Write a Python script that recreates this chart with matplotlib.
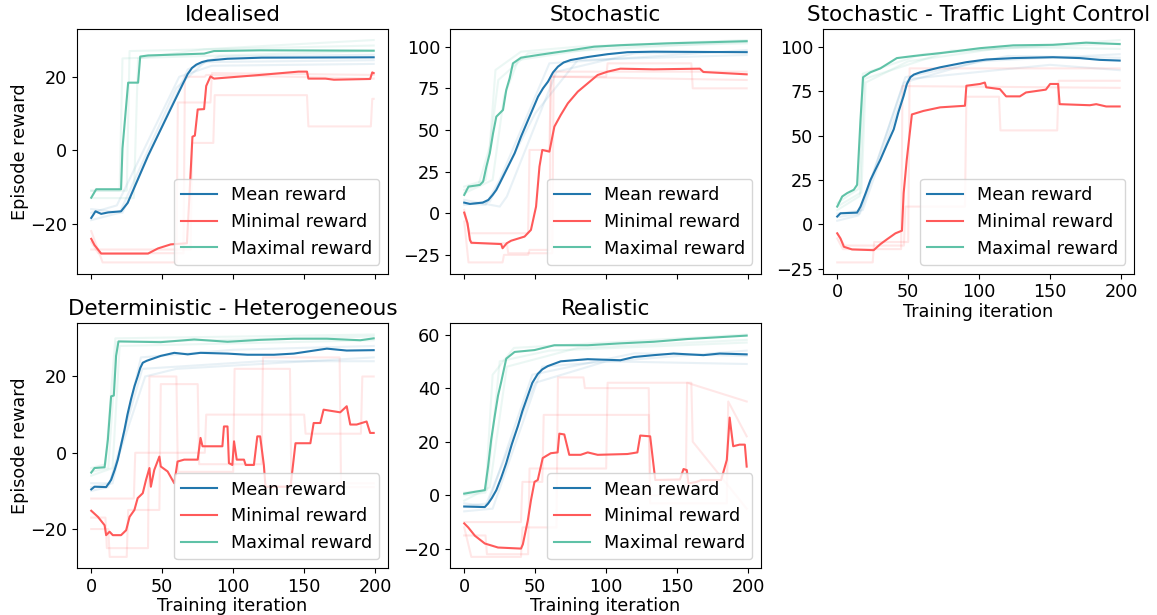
import matplotlib
matplotlib.use("Agg")
import matplotlib.pyplot as plt

# ---------------------------------------------------------------- data
# Each curve is a list of (training iteration, episode reward) breakpoints.

titles = ["Idealised", "Stochastic", "Stochastic - Traffic Light Control",
          "Deterministic - Heterogeneous", "Realistic"]
x_ticks = [0, 50, 100, 150, 200]
y_ticks = [[-20, 0, 20], [-25, 0, 25, 50, 75, 100], [-25, 0, 25, 50, 75, 100],
           [-20, 0, 20], [-20, 0, 20, 40, 60]]

# Idealised
idealised_mean = [(0, -18.4), (3, -16.6), (7, -17.3), (12, -16.9), (21, -16.6), (25.7, -14.3),
                  (40, -1.5), (55, 10.5), (68, 20.8), (71, 22.4), (74, 23.3), (78, 24.0),
                  (82, 24.4), (96, 24.9), (120, 25.2), (199, 25.3)]
idealised_min = [(0, -24.1), (2.3, -25.8), (7, -28.1), (40, -28.1), (47, -26.7), (56, -25.6),
                 (67.4, -25.3), (69, -13.8), (71.3, 3.7), (73, 4), (75, 11.1), (79.5, 11.2),
                 (81, 17.5), (84, 20.1), (86.5, 19.5), (119, 20.5), (146, 21.4), (152, 21.4),
                 (153, 19.5), (165, 19.5), (171, 19.2), (196.5, 19.4), (198, 21.2), (199, 21.0)]
idealised_max = [(0, -12.9), (3.5, -10.6), (21, -10.6), (22, 0.5), (26, 18.4), (33, 18.4),
                 (34.5, 25.5), (40, 25.8), (79.5, 26.3), (86.5, 27.0), (119, 27.2), (199, 27.1)]
idealised_runs_mean = [[(0, -19), (20, -17), (60, 17), (80, 24), (199, 24.5)],
                       [(0, -16), (22, -17), (68, 22), (90, 25.5), (199, 26)],
                       [(0, -17), (18, -15), (62, 20), (85, 23), (199, 23.5)]]
idealised_runs_min = [[(0, -22), (8, -30.5), (60, -30.5), (61, 13), (84, 13), (85, 21), (199, 20.5)],
                      [(0, -27), (70, -27), (71, 2), (86, 2), (87, 15), (152, 15), (153, 6.5),
                       (197, 6.5), (198, 14), (199, 14)],
                      [(0, -25), (5, -28), (65, -28), (66, 20), (80, 20), (81, 20.5), (199, 19.5)]]
idealised_runs_max = [[(0, -11), (25, -11), (27, 27), (199, 28.5)],
                      [(0, -13), (30, -13), (33, 25), (80, 27.5), (199, 30)],
                      [(0, -11), (20, -11), (22, 25), (199, 27)]]

# Stochastic
stochastic_mean = [(0, 6.4), (4, 5.6), (13, 6.4), (17, 8), (20, 11), (22.6, 14), (25, 18),
                   (28.5, 24), (32, 30), (35.5, 36), (40, 46), (45, 56), (48.5, 63), (52, 70),
                   (55.5, 75), (59, 79), (62.5, 84.5), (66, 88), (70, 90.5), (75, 92),
                   (87, 93.8), (101, 95.5), (115, 96.7), (133.5, 97), (199, 96.7)]
stochastic_min = [(0, 0.4), (2.3, -6), (4, -16), (5, -17.7), (26, -18.5), (27, -21), (30, -18),
                  (33, -16.5), (42.5, -14), (47, -10), (50.6, 4), (53, 28), (55, 38), (60, 37),
                  (63.5, 52), (68, 59), (73, 66), (80, 73), (87, 78), (94, 83), (101, 85),
                  (110, 86.8), (133.5, 86.4), (166, 86.8), (168.5, 84.8), (199, 83.4)]
stochastic_max = [(0, 11), (3, 16), (11, 17), (13.3, 19), (15.6, 28), (18, 36), (20.3, 48),
                  (22.6, 58), (27.3, 62), (29.6, 74), (32, 81), (34.3, 90), (40, 93.4), (52, 95),
                  (68, 97), (80, 98.5), (91.5, 100), (110, 100.9), (143, 102), (199, 103.3)]
stochastic_runs_mean = [[(0, 6), (15, 5), (25, 20), (60, 90), (199, 98)],
                        [(0, 8), (25, 4), (30, 10), (65, 85), (120, 96), (199, 97)],
                        [(0, 5), (18, 7), (50, 60), (80, 92), (199, 95)]]
stochastic_runs_min = [[(0, -5), (3, -29.5), (27, -29.5), (28, -25), (45, -25), (46, -22),
                        (60, -22), (61, 82), (199, 80)],
                       [(0, 0), (4, -12), (45, -12), (46, 38), (60, 38), (61, 82), (100, 82),
                        (101, 90), (160, 90), (161, 75), (199, 75)],
                       [(0, 2), (5, -18), (30, -18), (31, -24), (62, -24), (63, 85), (199, 85)]]
stochastic_runs_max = [[(0, 14), (10, 17), (18, 40), (22, 86), (40, 97), (80, 100), (199, 104)],
                       [(0, 12), (20, 20), (28, 70), (38, 92), (100, 100), (199, 102)],
                       [(0, 16), (15, 20), (24, 80), (45, 96), (199, 103)]]

# Stochastic - Traffic Light Control
traffic_mean = [(0, 4.4), (2.3, 6.2), (14, 6.6), (16.4, 10), (20, 17.5), (23.4, 25), (27, 31),
                (30.4, 36.5), (35, 45), (39.8, 53.6), (43, 63), (46.8, 72.5), (49, 79),
                (51.5, 83), (54, 84.5), (58.5, 85.8), (72.5, 88.6), (91, 91.5), (105, 93),
                (124, 93.8), (152, 94.3), (171, 93.8), (185, 92.8), (199, 92.4)]
traffic_min = [(0, -5.1), (2.3, -8), (4.7, -12.7), (10.5, -14.2), (25.7, -14.6), (30.4, -11.2),
               (35, -8.5), (41, -5.1), (45.6, -3.6), (46.8, 17.6), (49, 36.5), (52.6, 62),
               (60.8, 64), (72.5, 66), (90, 66.9), (91, 78.2), (100.6, 79.2), (104, 80),
               (105, 77.3), (114.6, 76.3), (119, 72.2), (128.7, 72.2), (133, 74.4), (147, 76),
               (150, 79.2), (155.6, 79.2), (156.7, 67.8), (178, 67.2), (182.5, 67.8),
               (189.5, 66.5), (199, 66.5)]
traffic_max = [(0, 10), (3.5, 15.7), (7, 17.6), (11.7, 19.5), (14, 22.3), (16.4, 59), (18.2, 83),
               (23.4, 85.8), (30.4, 88), (37.4, 91.5), (42, 93.8), (54, 95), (68, 96.2),
               (82, 97.5), (100.6, 99.4), (124, 101), (152, 101.3), (175.4, 102.5), (199, 101.7)]
traffic_runs_mean = [[(0, 2), (15, 5), (47, 80), (100, 92), (199, 96)],
                     [(0, 6), (18, 8), (50, 82), (150, 90), (199, 87)],
                     [(0, 4), (16, 6), (48, 83), (120, 95), (199, 94)]]
traffic_runs_min = [[(0, -21.5), (25, -21.5), (26, -10), (50, -10), (51, 88), (199, 88)],
                    [(0, -5), (5, -12), (47, -12), (48, 10), (90, 10), (91, 72), (114, 72),
                     (115, 53), (155, 53), (156, 81), (199, 81)],
                    [(0, -8), (4, -14), (45, -14), (46, 78), (199, 77)]]
traffic_runs_max = [[(0, 12), (15, 20), (18, 85), (60, 96), (199, 104)],
                    [(0, 10), (17, 18), (20, 80), (50, 92), (120, 100), (199, 99)],
                    [(0, 8), (16, 16), (19, 82), (80, 98), (199, 102)]]

# Deterministic - Heterogeneous
hetero_mean = [(0, -9.6), (2.3, -8.9), (10.5, -9), (14, -7.1), (16.5, -4.5), (18.7, -1.8),
               (21, 2), (23.4, 6), (25.5, 10), (28, 14), (30.5, 17.5), (32.7, 20), (34.5, 22.2),
               (36.3, 23.6), (39, 24.1), (42, 24.5), (49, 25.4), (58.5, 26.2), (68, 25.8),
               (77, 26.2), (96, 26), (110, 25.7), (128.7, 25.7), (142.7, 26), (166, 27.3),
               (180, 26.8), (199, 26.9)]
hetero_min = [(0, -15.2), (4.7, -16.8), (9.4, -19), (10.5, -21.6), (12.9, -20.7), (15.2, -21.6),
              (21, -21.6), (24.6, -20.3), (27, -16.8), (30.4, -15), (32.7, -11.9), (36.3, -10.6),
              (38.6, -7.1), (41, -4), (42, -8.9), (44.4, -4.5), (48, -1), (49, -3.6),
              (53.8, -4.9), (58.5, -8), (60.8, -2.3), (65.5, -1.8), (75, -1.8), (77, 3.9),
              (78.4, 1.7), (92.4, 1.7), (93.5, 6.9), (96, 6.9), (97, -2.7), (99.4, -3.2),
              (100.6, 3), (102.5, -1.8), (107.6, -1.8), (108.8, -3.2), (114.6, -3.2), (117, 4.3),
              (119, 4.3), (121.6, -3.2), (122.8, -8.9), (140.4, -8.9), (143.9, 2.5),
              (154.4, 2.5), (156.7, 7.8), (161.4, 7.8), (163.7, 11.3), (175.4, 10.6),
              (180, 12.2), (182.5, 7.4), (187, 7.4), (194, 8.2), (196.5, 5.2), (199, 5.2)]
hetero_max = [(0, -5.2), (2.3, -4), (9.4, -3.8), (11.7, 3.4), (14, 14.8), (15.9, 15), (17.5, 25.4),
              (19.2, 29.2), (49, 29), (72.5, 29.7), (96, 29.1), (119, 29.6), (142.7, 29.9),
              (166, 29.9), (189.5, 29.5), (199, 30)]
hetero_runs_mean = [[(0, -10), (12, -9), (38, 20), (60, 22), (199, 25)],
                    [(0, -9), (15, -8), (35, 25), (100, 27), (199, 28)],
                    [(0, -8), (13, -8), (36, 22), (120, 24), (199, 24)]]
hetero_runs_min = [[(0, -17), (10, -17), (11, -25), (40, -25), (41, 20), (60, 20), (61, -5),
                    (100, -5), (101, 22), (140, 22), (141, -8), (199, -8)],
                   [(0, -20), (12, -20), (13, -27.3), (25, -27.3), (26, -15), (48, -15), (49, 18),
                    (75, 18), (76, -3), (120, -3), (121, 25), (175, 25), (176, -9), (199, -9)],
                   [(0, -12), (30, -12), (31, 0), (80, 0), (81, 10), (150, 10), (151, 5),
                    (190, 5), (191, 20), (199, 20)]]
hetero_runs_max = [[(0, -4), (10, -3), (17, 30), (199, 31)],
                   [(0, -6), (15, -4), (20, 28), (199, 29.5)],
                   [(0, -5), (12, -4), (18, 29), (199, 30.5)]]

# Realistic
realistic_mean = [(0, -4.2), (14.5, -4.4), (16.8, -3.1), (19.5, -1), (22.6, 1.9), (26, 6.5),
                  (29.6, 12), (33.5, 19), (37.8, 25.8), (41, 31.5), (44.8, 37.2), (48, 42),
                  (51.8, 45.3), (55, 47), (58.8, 48.2), (68, 50), (87, 50.8), (110, 50.4),
                  (119.5, 51.6), (133.5, 52.3), (147.5, 52.9), (168.5, 52.3), (180, 52.9),
                  (199, 52.6)]
realistic_min = [(0, -10.5), (2.8, -12), (7.5, -15.1), (14.5, -18), (23.8, -19.5), (40, -19.9),
                 (41.3, -18.3), (44.8, -9.4), (47, -1.9), (49.5, 5), (51.8, 5.7), (55.3, 13.9),
                 (61, 15.7), (65.8, 16), (67, 23), (70.5, 22.7), (74, 15.1), (82, 15.1), (87, 16),
                 (94, 15.1), (115, 15.4), (122, 16), (124, 22.3), (131, 22), (134.6, 5.7),
                 (152, 5.9), (154.5, 9.8), (156.8, 9.4), (158, 4.4), (163.8, 5), (167, 5.7),
                 (181, 5.7), (185, 13.2), (187, 29), (189.5, 18.3), (194, 18.9), (197.7, 18.9),
                 (199, 10.7)]
realistic_max = [(0, 0.6), (7.5, 1.3), (14.5, 1.9), (16.8, 10.7), (19, 20.8), (21.5, 29.6),
                 (23.8, 37.2), (26, 42.2), (29.6, 51), (35.5, 53.5), (49.5, 54.2), (63.5, 56),
                 (87, 56), (110, 56.7), (133.5, 57.3), (156.8, 58.3), (199, 59.6)]
realistic_runs_mean = [[(0, -3), (15, -4), (50, 42), (100, 50), (199, 49)],
                       [(0, -6), (20, -5), (55, 48), (199, 54)],
                       [(0, -4), (17, -3), (48, 45), (120, 53), (199, 52)]]
realistic_runs_min = [[(0, -12), (5, -23), (40, -23), (41, -12), (65, -12), (66, 44), (84, 44),
                       (85, 40), (130, 40), (131, 0), (156, 0), (157, 42), (199, 35)],
                      [(0, -10), (40, -10), (41, 5), (55, 5), (56, 30), (130, 30), (131, -3),
                       (185, -3), (186, 35), (199, 22)],
                      [(0, -15), (15, -15), (16, -22), (45, -22), (46, 10), (100, 10), (101, 42),
                       (160, 42), (161, 20), (199, -5)]]
realistic_runs_max = [[(0, 0), (15, 1), (20, 45), (35, 55), (199, 60)],
                      [(0, -2), (18, 3), (30, 48), (80, 55), (199, 58)],
                      [(0, 1), (16, 2), (25, 50), (60, 54), (199, 57)]]

panels = [
    (idealised_mean, idealised_min, idealised_max,
     idealised_runs_mean, idealised_runs_min, idealised_runs_max),
    (stochastic_mean, stochastic_min, stochastic_max,
     stochastic_runs_mean, stochastic_runs_min, stochastic_runs_max),
    (traffic_mean, traffic_min, traffic_max,
     traffic_runs_mean, traffic_runs_min, traffic_runs_max),
    (hetero_mean, hetero_min, hetero_max,
     hetero_runs_mean, hetero_runs_min, hetero_runs_max),
    (realistic_mean, realistic_min, realistic_max,
     realistic_runs_mean, realistic_runs_min, realistic_runs_max),
]

# ---------------------------------------------------------------- style
MEAN_C = "#2277ad"
MIN_C = "#ff5a5a"
MAX_C = "#5fc2a7"
FS = 12.7

plt.rcParams["font.family"] = "DejaVu Sans"
plt.rcParams["font.size"] = FS


def xy(points):
    return [p[0] for p in points], [p[1] for p in points]


fig, axes = plt.subplots(2, 3, figsize=(11.57, 6.15), dpi=100)
fig.subplots_adjust(left=0.0666, right=0.980, top=0.953, bottom=0.0764,
                    wspace=0.2, hspace=0.204)
axes[1, 2].remove()
ax_list = [axes[0, 0], axes[0, 1], axes[0, 2], axes[1, 0], axes[1, 1]]

for i, (ax, title, data) in enumerate(zip(ax_list, titles, panels)):
    mean, mn, mx, runs_mean, runs_min, runs_max = data
    # individual runs, faint
    for run in runs_mean:
        ax.plot(*xy(run), color=MEAN_C, alpha=0.1, lw=1.5)
    for run in runs_max:
        ax.plot(*xy(run), color=MAX_C, alpha=0.12, lw=1.5)
    for run in runs_min:
        ax.plot(*xy(run), color=MIN_C, alpha=0.14, lw=1.5)
    # aggregated curves
    ax.plot(*xy(mean), color=MEAN_C, lw=1.5, label="Mean reward")
    ax.plot(*xy(mn), color=MIN_C, lw=1.5, label="Minimal reward")
    ax.plot(*xy(mx), color=MAX_C, lw=1.5, label="Maximal reward")

    ax.set_title(title, fontsize=FS * 1.22)
    ax.set_xticks(x_ticks)
    ax.set_yticks(y_ticks[i])
    ax.set_xlim(-10, 209)
    ax.tick_params(labelsize=FS)
    if i in (0, 1):
        ax.tick_params(labelbottom=False)
    else:
        ax.set_xlabel("Training iteration", fontsize=FS, labelpad=1)
    if i in (0, 3):
        ax.set_ylabel("Episode reward", fontsize=FS, labelpad=1)
    ax.legend(loc="lower right", fontsize=FS)

fig.savefig("out.png", dpi=100)
